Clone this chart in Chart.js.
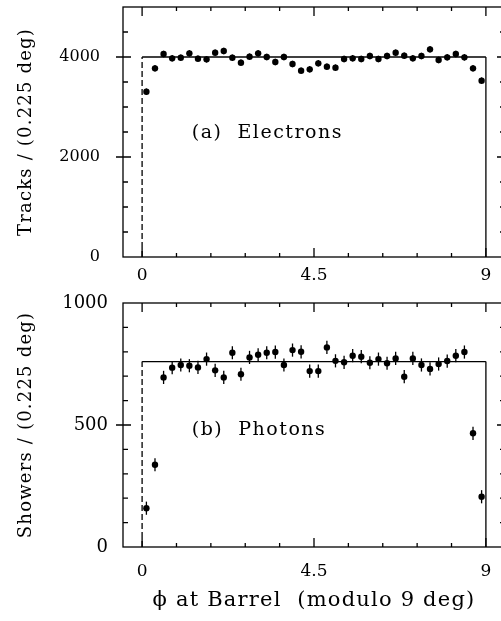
<!DOCTYPE html>
<html>
<head>
<meta charset="utf-8">
<script src="https://cdn.jsdelivr.net/npm/chart.js@4.4.1/dist/chart.umd.min.js"></script>
<style>
  html, body { margin: 0; padding: 0; background: #fff; overflow: hidden; }
  .panel { position: absolute; left: 0; width: 520px; }
  #top { top: 0; height: 290px; }
  #bottom { top: 290px; height: 331px; }
</style>
</head>
<body>
<div class="panel" id="top"><canvas id="electrons"></canvas></div>
<div class="panel" id="bottom"><canvas id="photons"></canvas></div>
<script>
// phi bins of 0.225 deg over one 9 deg module
const binWidth = 0.225;
const acceptance = [0, 9];
const xTickValues = [0, 4.5, 9];

// (a) electrons, tracks per bin
const electronTracks = [
  3306, 3773, 4060, 3973, 3987, 4073, 3967, 3953, 4087, 4120,
  3987, 3887, 4007, 4073, 4000, 3900, 4000, 3860, 3727, 3753,
  3873, 3807, 3787, 3960, 3973, 3960, 4020, 3960, 4020, 4087,
  4027, 3973, 4020, 4153, 3940, 3993, 4060, 3993, 3773, 3527,
];
const electronErr = 65;
const electronLevel = 4000;
const electronTicks = [0, 2000, 4000];

// (b) photons, showers per bin
const photonShowers = [
  159, 337, 695, 735, 746, 743, 736, 770, 724, 695,
  796, 708, 777, 788, 796, 799, 746, 807, 800, 721,
  721, 818, 763, 757, 784, 780, 755, 770, 753, 773,
  698, 773, 746, 730, 750, 762, 784, 799, 466, 206,
];
const photonErr = 27;
const photonLevel = 760;
const photonTicks = [0, 500, 1000];

const phiCenters = electronTracks.map((_, i) => (i + 0.5) * binWidth);

const FONT = "'DejaVu Serif', 'Liberation Serif', serif";
Chart.defaults.font.family = FONT;
Chart.defaults.color = "#000";

// frame with inward ticks, error bars, panel label
const framePlugin = {
  id: "frame",
  beforeDraw(chart) {
    chart.ctx.letterSpacing = "1.2px"; // axis titles only
  },
  beforeDatasetsDraw(chart) {
    chart.ctx.letterSpacing = "0px";
  },
  afterDatasetsDraw(chart) {
    const ctx = chart.ctx;
    const y = chart.scales.y;
    chart.data.datasets.forEach((ds, i) => {
      if (!ds.yErr) return;
      ctx.save();
      ctx.strokeStyle = "#000";
      ctx.lineWidth = 1.3;
      chart.getDatasetMeta(i).data.forEach((pt, j) => {
        const v = ds.data[j].y;
        ctx.beginPath();
        ctx.moveTo(pt.x, y.getPixelForValue(v - ds.yErr));
        ctx.lineTo(pt.x, y.getPixelForValue(v + ds.yErr));
        ctx.stroke();
      });
      ctx.restore();
    });
  },
  afterDraw(chart, args, opts) {
    const { ctx, chartArea: a } = chart;
    const { x, y } = chart.scales;
    ctx.save();
    ctx.strokeStyle = "#000";
    ctx.lineWidth = 1.3;
    ctx.strokeRect(a.left, a.top, a.right - a.left, a.bottom - a.top);
    ctx.beginPath();
    for (let k = 0; k <= 10; k++) {
      const px = x.getPixelForValue(k * 0.9);
      const len = k % 5 === 0 ? 9 : 4;
      ctx.moveTo(px, a.bottom);
      ctx.lineTo(px, a.bottom - len);
      ctx.moveTo(px, a.top);
      ctx.lineTo(px, a.top + len);
    }
    for (let v = opts.yMinor; v < y.max; v += opts.yMinor) {
      const py = y.getPixelForValue(v);
      const major = v % opts.yMajor === 0;
      ctx.moveTo(a.left - (major ? 7 : 0), py);
      ctx.lineTo(a.left + (major ? 8 : 5), py);
      ctx.moveTo(a.right, py);
      ctx.lineTo(a.right - (major ? 8 : 5), py);
    }
    ctx.stroke();

    ctx.letterSpacing = "1.5px";
    ctx.font = "19px " + FONT;
    ctx.fillStyle = "#000";
    ctx.textBaseline = "middle";
    ctx.fillText(opts.label, x.getPixelForValue(opts.labelAt[0]), y.getPixelForValue(opts.labelAt[1]));
    ctx.restore();
  },
};

function noPad(s) {
  s.paddingTop = 0;
  s.paddingBottom = 0;
  s.paddingLeft = 0;
  s.paddingRight = 0;
}

function makePanel(id, values, err, level, p) {
  return new Chart(document.getElementById(id), {
    type: "scatter",
    data: {
      datasets: [
        {
          data: phiCenters.map((phi, i) => ({ x: phi, y: values[i] })),
          yErr: err,
          pointRadius: 3.2,
          pointBackgroundColor: "#000",
          pointBorderWidth: 0,
        },
        {
          type: "line",
          data: [
            { x: acceptance[0], y: 0 },
            { x: acceptance[0], y: level },
            { x: acceptance[1], y: level },
            { x: acceptance[1], y: 0 },
          ],
          borderColor: "#000",
          borderWidth: 1.3,
          pointRadius: 0,
          fill: false,
          segment: {
            borderDash: (c) => (c.p0DataIndex === 1 ? undefined : [6, 3]),
          },
        },
      ],
    },
    options: {
      responsive: true,
      maintainAspectRatio: false,
      animation: false,
      layout: { padding: { top: p.padTop, right: 15, left: 0, bottom: 0 } },
      plugins: {
        legend: false,
        tooltip: { enabled: false },
        frame: { yMinor: p.yMinor, yMajor: p.yMajor, label: p.label, labelAt: p.labelAt },
      },
      scales: {
        x: {
          type: "linear",
          min: -0.5,
          max: 9.5,
          grid: { display: false, drawTicks: false },
          border: { display: false },
          afterBuildTicks: (s) => {
            s.ticks = xTickValues.map((v) => ({ value: v }));
          },
          ticks: {
            z: 1,
            padding: p.xPad,
            autoSkip: false,
            maxRotation: 0,
            font: { size: 17 },
            callback: (v) => String(v),
          },
          title: {
            display: !!p.xTitle,
            text: p.xTitle,
            font: { size: 21 },
            padding: { top: 0, bottom: 8 },
          },
          afterFit: (s) => {
            s.height = p.xHeight;
            noPad(s);
          },
        },
        y: {
          min: 0,
          max: p.yMax,
          grid: { display: false, drawTicks: false },
          border: { display: false },
          afterBuildTicks: (s) => {
            s.ticks = p.yTicks.map((v) => ({ value: v }));
          },
          ticks: {
            z: 1,
            padding: p.yPad,
            font: { size: p.yFont },
            callback: (v) => String(v),
          },
          title: {
            display: true,
            text: p.yTitle,
            font: { size: 18 },
            padding: { top: 16, bottom: 0 },
          },
          afterFit: (s) => {
            s.width = 123;
            noPad(s);
          },
        },
      },
    },
    plugins: [framePlugin],
  });
}

const electronChart = makePanel("electrons", electronTracks, electronErr, electronLevel, {
  padTop: 7,
  xHeight: 33,
  xPad: 8,
  yMax: 5000,
  yTicks: electronTicks,
  yMinor: 500,
  yMajor: 2000,
  yPad: 23,
  yFont: 16,
  yTitle: "Tracks / (0.225 deg)",
  label: "(a)  Electrons",
  labelAt: [1.3, 2480],
});

const photonChart = makePanel("photons", photonShowers, photonErr, photonLevel, {
  padTop: 13,
  xHeight: 74,
  xPad: 14,
  xTitle: "\u03d5 at Barrel  (modulo 9 deg)",
  yMax: 1000,
  yTicks: photonTicks,
  yMinor: 100,
  yMajor: 500,
  yPad: 15,
  yFont: 18,
  yTitle: "Showers / (0.225 deg)",
  label: "(b)  Photons",
  labelAt: [1.3, 480],
});
</script>
</body>
</html>
